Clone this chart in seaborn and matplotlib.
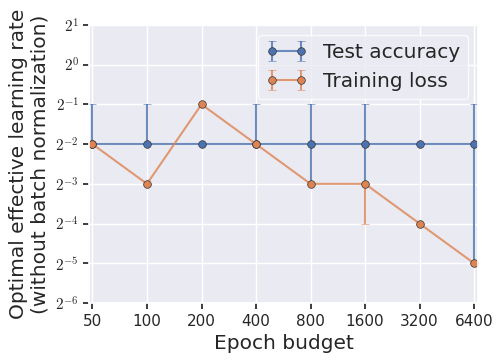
import numpy as np
import matplotlib
matplotlib.use("Agg")
import matplotlib.pyplot as plt
import seaborn as sns
from matplotlib.ticker import FuncFormatter, FixedLocator

# epoch budgets and optimal learning rates (log2 values)
epochs = [50, 100, 200, 400, 800, 1600, 3200, 6400]
acc_exp = [-2, -2, -2, -2, -2, -2, -2, -2]
acc_hi_exp = [-1, -1, -2, -1, -1, -1, -2, -1]
acc_lo_exp = [-2, -2, -2, -2, -3, -3, -2, -5]
loss_exp = [-2, -3, -1, -2, -3, -3, -4, -5]
loss_hi_exp = [-2, -3, -1, -2, -3, -3, -4, -5]
loss_lo_exp = [-2, -3, -1, -2, -3, -4, -4, -5]
y_ticks_exp = [-6, -5, -4, -3, -2, -1, 0, 1]

sns.set_theme(style="darkgrid")
plt.rcParams.update({
    "xtick.bottom": True, "ytick.left": True,
    "xtick.major.size": 4, "ytick.major.size": 4,
    "xtick.color": "#262626", "ytick.color": "#262626",
    "mathtext.fontset": "cm",
})
pal = sns.color_palette("deep")

fig, ax = plt.subplots(figsize=(5.01, 3.6), dpi=100)
fig.subplots_adjust(left=0.178, right=0.954, top=0.931, bottom=0.158)


def draw(y_exp, lo_exp, hi_exp, color, label):
    y = 2.0 ** np.array(y_exp)
    lo = y - 2.0 ** np.array(lo_exp)
    hi = 2.0 ** np.array(hi_exp) - y
    ax.errorbar(epochs, y, yerr=[lo, hi], fmt="-o", color=(*color, 0.8),
                mfc=color, mec="#333333", mew=0.5, ms=5.5, lw=1.5,
                capsize=3, label=label)


draw(acc_exp, acc_lo_exp, acc_hi_exp, pal[0], "Test accuracy")
draw(loss_exp, loss_lo_exp, loss_hi_exp, pal[1], "Training loss")

ax.set_xscale("log", base=2)
ax.set_yscale("log", base=2)
ax.xaxis.set_major_locator(FixedLocator(epochs))
ax.xaxis.set_minor_locator(FixedLocator([]))
ax.xaxis.set_major_formatter(FuncFormatter(lambda v, p: f"{int(round(v))}"))
ax.yaxis.set_major_locator(FixedLocator([2.0 ** e for e in y_ticks_exp]))
ax.yaxis.set_minor_locator(FixedLocator([]))
ax.yaxis.set_major_formatter(FuncFormatter(lambda v, p: r"$2^{%d}$" % int(round(np.log2(v)))))
ax.set_xlim(50 / 2 ** 0.06, 6400 * 2 ** 0.07)
ax.set_ylim(2.0 ** -6, 2.0 ** 1)
ax.tick_params(labelsize=11)

ax.set_xlabel("Epoch budget", fontsize=14.5)
ax.set_ylabel("Optimal effective learning rate\n(without batch normalization)", fontsize=14.5, labelpad=4)
ax.legend(loc="upper right", fontsize=14.5, numpoints=2, frameon=True,
          facecolor="#eaeaf2", edgecolor="white")

fig.savefig("out.png", dpi=100)
